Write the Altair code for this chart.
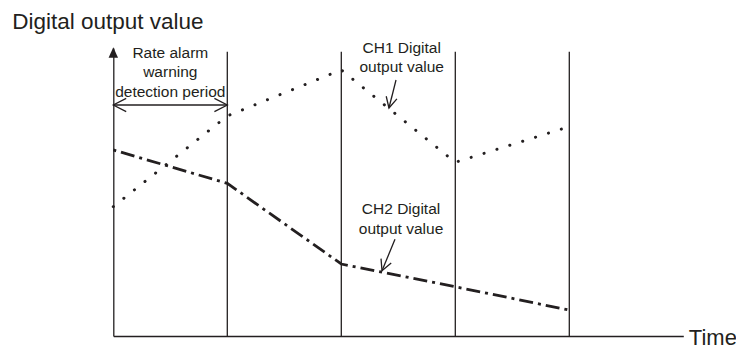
import altair as alt
import pandas as pd

# ---- data ----
times = [0, 1, 2, 3, 4]
ch1_values = [44.9, 76.4, 92.4, 60.3, 72.7]
ch2_values = [64.6, 53.0, 25.0, 17.1, 9.0]
boundary_times = [1, 2, 3, 4]
boundary_top = 98.7

INK = "#231f20"
LABEL_FONT = "Liberation Sans, Arial, Helvetica"
TITLE_FONT = "Liberation Sans, Arial, Helvetica"

W, H = 570, 288
xs = alt.Scale(domain=[0, 5], nice=False, zero=False)
ys = alt.Scale(domain=[0, 100], nice=False, zero=False)

ch1_df = pd.DataFrame({"t": times, "v": ch1_values})
ch2_df = pd.DataFrame({"t": times, "v": ch2_values})

x_enc = alt.X("t:Q", scale=xs, axis=alt.Axis(
    domain=True, domainColor=INK, domainWidth=1.3, ticks=False, labels=False,
    grid=False, title="Time", titleX=W + 5, titleY=1, titleAlign="left",
    titleBaseline="middle", titleFont=TITLE_FONT, titleFontSize=22,
    titleFontWeight="normal", titleColor=INK))
y_enc = alt.Y("v:Q", scale=ys, axis=alt.Axis(
    domain=True, domainColor=INK, domainWidth=1.3, ticks=False, labels=False,
    grid=False, title="Digital output value", titleAngle=0, titleX=-101.6,
    titleY=-20, titleAlign="left", titleBaseline="alphabetic",
    titleFont=TITLE_FONT, titleFontSize=22.5, titleFontWeight="normal",
    titleColor=INK))

ch1 = alt.Chart(ch1_df).mark_line(
    color=INK, strokeWidth=3, strokeCap="round", strokeDash=[0.1, 13.4]).encode(
    x=x_enc, y=y_enc)
ch2 = alt.Chart(ch2_df).mark_line(
    color=INK, strokeWidth=2.8, strokeCap="butt", strokeDash=[3, 5, 14, 5]).encode(
    x=alt.X("t:Q", scale=xs), y=alt.Y("v:Q", scale=ys))

bounds_df = pd.DataFrame({"t": boundary_times, "b": [0] * 4, "top": [boundary_top] * 4})
bounds = alt.Chart(bounds_df).mark_rule(color=INK, strokeWidth=1.3).encode(
    x=alt.X("t:Q", scale=xs), y=alt.Y("b:Q", scale=ys), y2="top:Q")

# y-axis arrowhead
axis_head = alt.Chart(pd.DataFrame({"t": [0], "v": [98.44]})).mark_point(
    shape="M0,-1L-0.9,1L0.9,1Z", filled=True, size=110, color=INK, opacity=1).encode(
    x=alt.X("t:Q", scale=xs), y=alt.Y("v:Q", scale=ys))

# double arrow for detection period
period = pd.DataFrame({"t": [0], "t2": [1], "v": [80.2]})
period_rule = alt.Chart(period).mark_rule(color=INK, strokeWidth=1.3).encode(
    x=alt.X("t:Q", scale=xs), x2="t2:Q", y=alt.Y("v:Q", scale=ys))

CHEVRON = "M-2.2,4.3L0,0L2.2,4.3"
heads = pd.DataFrame({
    "t": [0, 1, 2.418, 2.357],
    "v": [80.2, 80.2, 79.17, 22.67],
    "ang": [270, 90, 194, 202.5],
    "sz": [36, 36, 25, 25],
})
head_marks = alt.Chart(heads).mark_point(
    shape=CHEVRON, filled=False, color=INK, strokeWidth=1.3, opacity=1).encode(
    x=alt.X("t:Q", scale=xs), y=alt.Y("v:Q", scale=ys),
    angle=alt.Angle("ang:Q", scale=None), size=alt.Size("sz:Q", scale=None))

pointers = pd.DataFrame({
    "t": [2.480, 2.471], "v": [88.89, 33.58],
    "t2": [2.418, 2.357], "v2": [79.17, 22.67],
})
pointer_rules = alt.Chart(pointers).mark_rule(color=INK, strokeWidth=1.3).encode(
    x=alt.X("t:Q", scale=xs), y=alt.Y("v:Q", scale=ys), x2="t2:Q", y2="v2:Q")

labels = pd.DataFrame({
    "t": [0.5, 2.53, 2.524],
    "v": [96.63, 98.37, 42.36],
    "txt": ["Rate alarm\nwarning\ndetection period", "CH1 Digital\noutput value",
            "CH2 Digital\noutput value"],
})
label_marks = alt.Chart(labels).mark_text(
    lineBreak="\n", font=LABEL_FONT, fontSize=15.5, lineHeight=19.5, color=INK,
    align="center", baseline="alphabetic").encode(
    x=alt.X("t:Q", scale=xs), y=alt.Y("v:Q", scale=ys), text="txt:N")

chart = alt.layer(
    ch1, ch2, bounds, period_rule, pointer_rules, head_marks, axis_head, label_marks
).properties(
    width=W, height=H, autosize="none",
    padding={"left": 105.3, "top": 40, "right": 52.7, "bottom": 16},
).configure_view(stroke=None)

chart.save("out.html", embed_options={"renderer": "svg", "actions": False})
